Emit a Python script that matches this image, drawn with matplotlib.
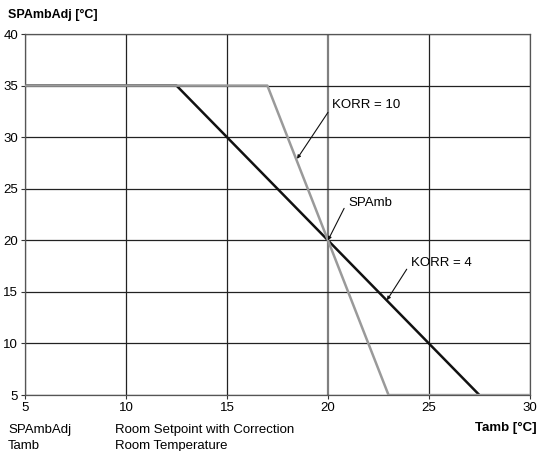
import matplotlib.pyplot as plt

plt.rcParams['font.family'] = ['Liberation Sans', 'DejaVu Sans']

# curve data
korr4_x = [5, 12.5, 27.5]
korr4_y = [35, 35, 5]
korr10_x = [5, 17, 23, 30]
korr10_y = [35, 35, 5, 5]
sp_amb = 20

x_ticks = [5, 10, 15, 20, 25, 30]
y_ticks = [5, 10, 15, 20, 25, 30, 35, 40]

# labels: text, text pos, arrow start, arrow tip
labels = ['KORR = 10', 'SPAmb', 'KORR = 4']
label_pos = [(20.2, 33.1), (21.0, 23.6), (24.1, 17.8)]
arrow_from = [(20.0, 32.4), (20.8, 23.1), (23.9, 17.2)]
arrow_to = [(18.47, 27.9), (20.0, 20.0), (22.92, 14.2)]

fig = plt.figure(figsize=(5.38, 4.51), dpi=100)
ax = fig.add_axes([0.0465, 0.124, 0.9385, 0.8006])

# grid
for xv in x_ticks:
    if xv == sp_amb:
        ax.axvline(xv, color='#808080', lw=1.6, zorder=1)
    else:
        ax.axvline(xv, color='#222222', lw=0.9, zorder=1)
for yv in y_ticks:
    ax.axhline(yv, color='#222222', lw=0.9, zorder=1)

ax.plot(korr4_x, korr4_y, color='#111111', lw=1.8, zorder=3)
ax.plot(korr10_x, korr10_y, color='#9a9a9a', lw=1.8, zorder=4)

ax.set_xlim(5, 30)
ax.set_ylim(5, 40)
ax.set_xticks(x_ticks)
ax.set_yticks(y_ticks)
ax.tick_params(labelsize=9.5, length=3, width=0.8, color='#333333', pad=2)
for s in ax.spines.values():
    s.set_color('#555555')
    s.set_linewidth(0.9)

arrow = dict(arrowstyle='-|>', lw=0.8, color='#111111', mutation_scale=5,
             shrinkA=0, shrinkB=0)
for txt, pos, a0, a1 in zip(labels, label_pos, arrow_from, arrow_to):
    ax.text(pos[0], pos[1], txt, fontsize=9.5, va='center', ha='left', zorder=6)
    ax.annotate('', xy=a1, xytext=a0, arrowprops=arrow, zorder=6)

fig.text(8 / 538, 1 - 15 / 451, 'SPAmbAdj [°C]', fontsize=9, fontweight='bold',
         va='center', ha='left')
fig.text(537 / 538, 1 - 428 / 451, 'Tamb [°C]', fontsize=9.5, fontweight='bold',
         va='center', ha='right')
fig.text(8 / 538, 1 - 430 / 451, 'SPAmbAdj', fontsize=9.5, va='center', ha='left')
fig.text(115 / 538, 1 - 430 / 451, 'Room Setpoint with Correction', fontsize=9.5,
         va='center', ha='left')
fig.text(8 / 538, 1 - 446 / 451, 'Tamb', fontsize=9.5, va='center', ha='left')
fig.text(115 / 538, 1 - 446 / 451, 'Room Temperature', fontsize=9.5,
         va='center', ha='left')

fig.savefig('out.png', dpi=100)
